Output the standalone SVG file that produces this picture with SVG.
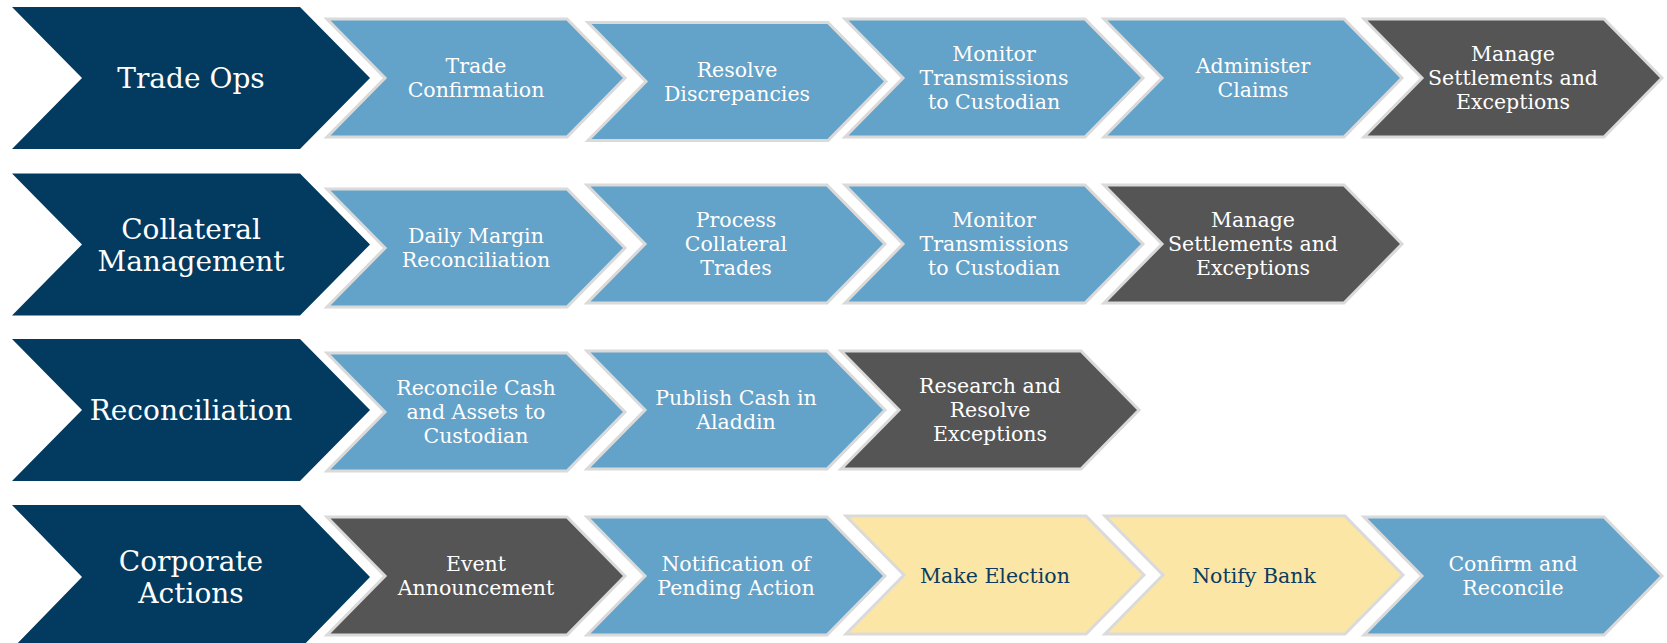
<svg xmlns="http://www.w3.org/2000/svg" width="1667" height="643" viewBox="0 0 1667 643">
<style>
.hd{fill:#033b60}
.bl{fill:#63a2c9;stroke:#dadada;stroke-width:3}
.gr{fill:#555555;stroke:#dadada;stroke-width:3}
.yl{fill:#fce6a5;stroke:#dadada;stroke-width:3}
text{font-family:"DejaVu Serif","Liberation Serif",serif;text-anchor:middle;fill:#ffffff}
.ht{font-size:28px}
.ct{font-size:20.5px}
.nt{fill:#0b3b5e}
</style>
<rect width="1667" height="643" fill="#ffffff"/>
<g id="connectors"/>
<!-- Row 1 -->
<g id="h1"><polygon class="hd" points="12,7 300,7 370,78 300,149 12,149 82,78"/><text class="ht" x="191" y="88">Trade Ops</text></g>
<g id="r1c1"><polygon class="bl" points="327,19 567,19 625,78 567,137 327,137 385,78"/><text class="ct" x="476" y="73">Trade</text><text class="ct" x="476" y="97">Confirmation</text></g>
<g id="r1c2"><polygon class="bl" points="588,22.5 828,22.5 886,81.5 828,140.5 588,140.5 646,81.5"/><text class="ct" x="737" y="76.5">Resolve</text><text class="ct" x="737" y="100.5">Discrepancies</text></g>
<g id="r1c3"><polygon class="bl" points="845,19 1085,19 1143,78 1085,137 845,137 903,78"/><text class="ct" x="994" y="61">Monitor</text><text class="ct" x="994" y="85">Transmissions</text><text class="ct" x="994" y="109">to Custodian</text></g>
<g id="r1c4"><polygon class="bl" points="1104,19 1344,19 1402,78 1344,137 1104,137 1162,78"/><text class="ct" x="1253" y="73">Administer</text><text class="ct" x="1253" y="97">Claims</text></g>
<g id="r1c5"><polygon class="gr" points="1364,19 1604,19 1662,78 1604,137 1364,137 1422,78"/><text class="ct" x="1513" y="61">Manage</text><text class="ct" x="1513" y="85">Settlements and</text><text class="ct" x="1513" y="109">Exceptions</text></g>
<!-- Row 2 -->
<g id="h2"><polygon class="hd" points="12,173.5 300,173.5 370,244.5 300,315.5 12,315.5 82,244.5"/><text class="ht" x="191" y="238.5">Collateral</text><text class="ht" x="191" y="270.5">Management</text></g>
<g id="r2c1"><polygon class="bl" points="327,189 567,189 625,248 567,307 327,307 385,248"/><text class="ct" x="476" y="243">Daily Margin</text><text class="ct" x="476" y="267">Reconciliation</text></g>
<g id="r2c2"><polygon class="bl" points="587,185 827,185 885,244 827,303 587,303 645,244"/><text class="ct" x="736" y="227">Process</text><text class="ct" x="736" y="251">Collateral</text><text class="ct" x="736" y="275">Trades</text></g>
<g id="r2c3"><polygon class="bl" points="845,185 1085,185 1143,244 1085,303 845,303 903,244"/><text class="ct" x="994" y="227">Monitor</text><text class="ct" x="994" y="251">Transmissions</text><text class="ct" x="994" y="275">to Custodian</text></g>
<g id="r2c4"><polygon class="gr" points="1104,185 1344,185 1402,244 1344,303 1104,303 1162,244"/><text class="ct" x="1253" y="227">Manage</text><text class="ct" x="1253" y="251">Settlements and</text><text class="ct" x="1253" y="275">Exceptions</text></g>
<!-- Row 3 -->
<g id="h3"><polygon class="hd" points="12,339 300,339 370,410 300,481 12,481 82,410"/><text class="ht" x="191" y="420">Reconciliation</text></g>
<g id="r3c1"><polygon class="bl" points="327,353 567,353 625,412 567,471 327,471 385,412"/><text class="ct" x="476" y="395">Reconcile Cash</text><text class="ct" x="476" y="419">and Assets to</text><text class="ct" x="476" y="443">Custodian</text></g>
<g id="r3c2"><polygon class="bl" points="587,351 827,351 885,410 827,469 587,469 645,410"/><text class="ct" x="736" y="405">Publish Cash in</text><text class="ct" x="736" y="429">Aladdin</text></g>
<g id="r3c3"><polygon class="gr" points="841,351 1081,351 1139,410 1081,469 841,469 899,410"/><text class="ct" x="990" y="393">Research and</text><text class="ct" x="990" y="417">Resolve</text><text class="ct" x="990" y="441">Exceptions</text></g>
<!-- Row 4 -->
<g id="h4"><polygon class="hd" points="12,505 300,505 370,577 300,649 12,649 82,577"/><text class="ht" x="191" y="571">Corporate</text><text class="ht" x="191" y="603">Actions</text></g>
<g id="r4c1"><polygon class="gr" points="327,517 567,517 625,576 567,635 327,635 385,576"/><text class="ct" x="476" y="571">Event</text><text class="ct" x="476" y="595">Announcement</text></g>
<g id="r4c2"><polygon class="bl" points="587,517 827,517 885,576 827,635 587,635 645,576"/><text class="ct" x="736" y="571">Notification of</text><text class="ct" x="736" y="595">Pending Action</text></g>
<g id="r4c3"><polygon class="yl" points="846,516 1086,516 1144,575 1086,634 846,634 904,575"/><text class="ct nt" x="995" y="583">Make Election</text></g>
<g id="r4c4"><polygon class="yl" points="1105,516 1345,516 1403,575 1345,634 1105,634 1163,575"/><text class="ct nt" x="1254" y="583">Notify Bank</text></g>
<g id="r4c5"><polygon class="bl" points="1364,517 1604,517 1662,576 1604,635 1364,635 1422,576"/><text class="ct" x="1513" y="571">Confirm and</text><text class="ct" x="1513" y="595">Reconcile</text></g>
</svg>
